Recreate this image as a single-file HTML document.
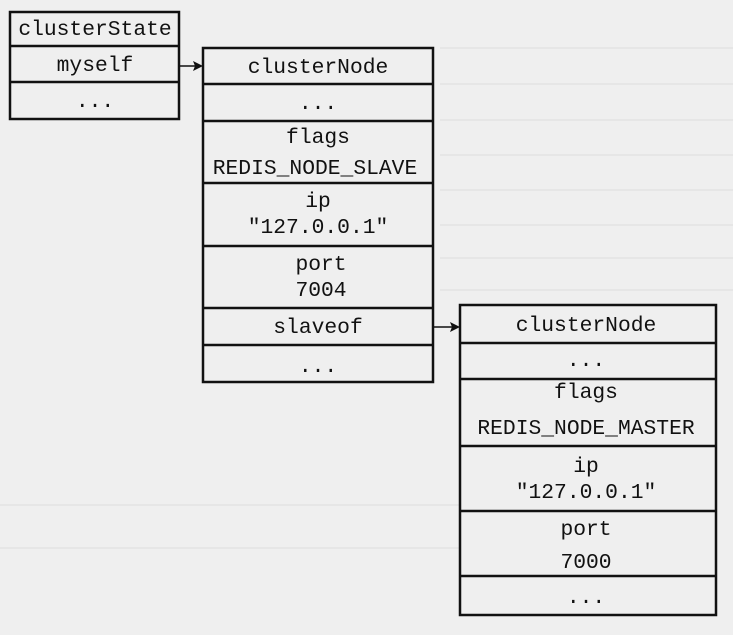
<!DOCTYPE html>
<html><head><meta charset="utf-8"><style>
html,body{margin:0;padding:0;background:#efefef;}
svg{display:block}
text{font-family:"Liberation Mono",monospace;font-size:21.3px;fill:#111;text-anchor:middle}
</style></head><body>
<svg width="733" height="635" viewBox="0 0 733 635" xmlns="http://www.w3.org/2000/svg">
<rect width="733" height="635" fill="#efefef"/>
<g stroke="#ddd" stroke-width="1" fill="none">
<line x1="440" y1="48" x2="733" y2="48"/><line x1="440" y1="84" x2="733" y2="84"/>
<line x1="440" y1="120" x2="733" y2="120"/><line x1="440" y1="155" x2="733" y2="155"/>
<line x1="440" y1="190" x2="733" y2="190"/><line x1="440" y1="225" x2="733" y2="225"/>
<line x1="440" y1="258" x2="733" y2="258"/><line x1="440" y1="290" x2="733" y2="290"/>
<line x1="0" y1="505" x2="460" y2="505"/><line x1="0" y1="548" x2="460" y2="548"/>
</g>
<g stroke="#111" stroke-width="2.5" fill="none">
<rect x="10" y="12" width="169" height="107"/>
<line x1="10" y1="46" x2="179" y2="46"/>
<line x1="10" y1="82" x2="179" y2="82"/>
<rect x="203" y="48" width="230" height="334"/>
<line x1="203" y1="84" x2="433" y2="84"/>
<line x1="203" y1="121" x2="433" y2="121"/>
<line x1="203" y1="183" x2="433" y2="183"/>
<line x1="203" y1="246" x2="433" y2="246"/>
<line x1="203" y1="308" x2="433" y2="308"/>
<line x1="203" y1="345" x2="433" y2="345"/>
<rect x="460" y="305" width="256" height="310"/>
<line x1="460" y1="343" x2="716" y2="343"/>
<line x1="460" y1="379" x2="716" y2="379"/>
<line x1="460" y1="446" x2="716" y2="446"/>
<line x1="460" y1="511" x2="716" y2="511"/>
<line x1="460" y1="576" x2="716" y2="576"/>
</g>
<g stroke="#111" stroke-width="1.5">
<line x1="179" y1="66" x2="196" y2="66"/>
<line x1="433" y1="327" x2="452" y2="327"/>
</g>
<polygon points="203,66 193,61 195,66 193,71" fill="#111"/>
<polygon points="460,327 450,322 452,327 450,332" fill="#111"/>
<text x="95" y="35">clusterState</text>
<text x="95" y="71">myself</text>
<text x="95" y="107">...</text>
<text x="318" y="73">clusterNode</text>
<text x="318" y="109">...</text>
<text x="318" y="143">flags</text>
<text x="315" y="174">REDIS_NODE_SLAVE</text>
<text x="318" y="207">ip</text>
<text x="318" y="233">"127.0.0.1"</text>
<text x="321" y="270">port</text>
<text x="321" y="296">7004</text>
<text x="318" y="333">slaveof</text>
<text x="318" y="372">...</text>
<text x="586" y="331">clusterNode</text>
<text x="586" y="366">...</text>
<text x="586" y="398">flags</text>
<text x="586" y="434">REDIS_NODE_MASTER</text>
<text x="586" y="472">ip</text>
<text x="586" y="498">"127.0.0.1"</text>
<text x="586" y="535">port</text>
<text x="586" y="568">7000</text>
<text x="586" y="603">...</text>
</svg>
</body></html>
